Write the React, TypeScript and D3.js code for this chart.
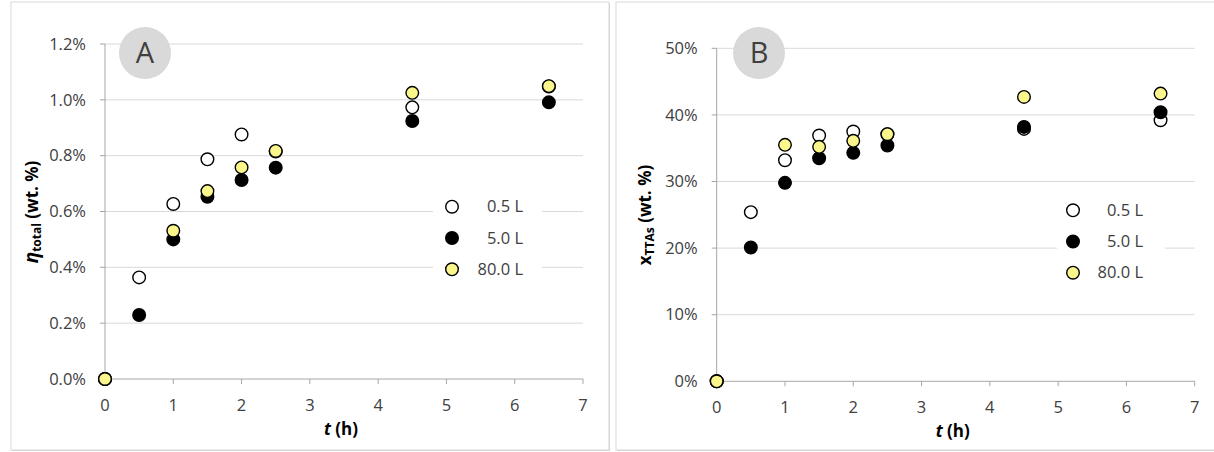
import React from "react";
import * as d3 from "d3";

const times = [0, 0.5, 1, 1.5, 2, 2.5, 4.5, 6.5];

const seriesNames = ["0.5 L", "5.0 L", "80.0 L"];
const seriesFill = ["#ffffff", "#000000", "#fbf68c"];

// Panel A: eta_total (fraction)
const etaSmall = [0, 0.00364, 0.00627, 0.00787, 0.00876, 0.00815, 0.00973, 0.01048];
const etaMedium = [0, 0.00229, 0.005, 0.00653, 0.00713, 0.00757, 0.00924, 0.00991];
const etaLarge = [0, null, 0.00531, 0.00673, 0.00758, 0.00817, 0.01025, 0.01049];

// Panel B: x_TTAs (fraction)
const ttaSmall = [0, 0.254, 0.332, 0.369, 0.375, 0.371, 0.379, 0.392];
const ttaMedium = [0, 0.201, 0.298, 0.335, 0.343, 0.354, 0.382, 0.404];
const ttaLarge = [0, null, 0.355, 0.352, 0.361, 0.371, 0.427, 0.432];

const xTicks = [0, 1, 2, 3, 4, 5, 6, 7];
const etaTicks = [0, 0.002, 0.004, 0.006, 0.008, 0.01, 0.012];
const ttaTicks = [0, 0.1, 0.2, 0.3, 0.4, 0.5];

const FONT = "'Open Sans', 'Noto Sans', sans-serif";
const TXT = "#404040";

type PanelProps = {
  frame: [number, number];
  xr: [number, number];
  yr: [number, number];
  ymax: number;
  yTicks: number[];
  fmt: (v: number) => string;
  series: (number | null)[][];
  letter: string;
  letterPos: [number, number];
  legend: { x: number; textX: number; y0: number; dy: number; bg: [number, number] };
  yLabel: React.ReactNode;
  yLabelPos: [number, number];
};

function Panel(p: PanelProps) {
  const x = d3.scaleLinear().domain([0, 7]).range(p.xr);
  const y = d3.scaleLinear().domain([0, p.ymax]).range(p.yr);
  const [fx0, fx1] = p.frame;
  return (
    <g>
      <rect x={fx0 + 1} y={3} width={fx1 - fx0} height={448} fill="#d0d0d0" />
      <rect x={fx0} y={2} width={fx1 - fx0} height={448} fill="#ffffff" stroke="#d9d9d9" strokeWidth={1} />
      {p.yTicks.slice(1).map((t) => (
        <line key={"g" + t} x1={p.xr[0]} x2={p.xr[1]} y1={y(t)} y2={y(t)} stroke="#d9d9d9" strokeWidth={1} />
      ))}
      <line x1={p.xr[0]} x2={p.xr[0]} y1={p.yr[0]} y2={p.yr[1]} stroke="#a6a6a6" strokeWidth={1} />
      <line x1={p.xr[0]} x2={p.xr[1]} y1={p.yr[0]} y2={p.yr[0]} stroke="#a6a6a6" strokeWidth={1} />
      {p.yTicks.map((t) => (
        <g key={"y" + t}>
          <line x1={p.xr[0] - 5} x2={p.xr[0]} y1={y(t)} y2={y(t)} stroke="#a6a6a6" />
          <text x={p.xr[0] - 19} y={y(t)} dy="0.35em" textAnchor="end" fontSize={16.5} fill={TXT} fontFamily={FONT}>
            {p.fmt(t)}
          </text>
        </g>
      ))}
      {xTicks.map((t) => (
        <g key={"x" + t}>
          <line x1={x(t)} x2={x(t)} y1={p.yr[0]} y2={p.yr[0] + 5} stroke="#a6a6a6" />
          <text x={x(t)} y={p.yr[0] + 26} dy="0.35em" textAnchor="middle" fontSize={16.5} fill={TXT} fontFamily={FONT}>
            {t}
          </text>
        </g>
      ))}
      <text x={(p.xr[0] + p.xr[1]) / 2 - 3} y={p.yr[0] + 56} textAnchor="middle" fontSize={17} fontWeight="bold" fill="#000" fontFamily={FONT}>
        <tspan fontStyle="italic">t</tspan> (h)
      </text>
      <text
        transform={`translate(${p.yLabelPos[0]},${p.yLabelPos[1]}) rotate(-90)`}
        textAnchor="middle"
        fontSize={17}
        fontWeight="bold"
        fill="#000"
        fontFamily={FONT}
      >
        {p.yLabel}
      </text>
      <rect x={p.legend.bg[0]} y={p.legend.y0 - 16} width={p.legend.bg[1] - p.legend.bg[0]} height={p.legend.dy * 2 + 32} fill="#fff" />
      {seriesNames.map((n, i) => (
        <g key={n}>
          <circle cx={p.legend.x} cy={p.legend.y0 + i * p.legend.dy} r={6.3} fill={seriesFill[i]} stroke="#000" strokeWidth={1.4} />
          <text x={p.legend.textX} y={p.legend.y0 + i * p.legend.dy} dy="0.35em" textAnchor="end" fontSize={16.5} fill={TXT} fontFamily={FONT}>
            {n}
          </text>
        </g>
      ))}
      {p.series.map((s, si) =>
        s.map((v, i) =>
          v === null ? null : (
            <circle key={si + "-" + i} cx={x(times[i])} cy={y(v)} r={6.3} fill={seriesFill[si]} stroke="#000" strokeWidth={1.4} />
          )
        )
      )}
      <circle cx={p.letterPos[0]} cy={p.letterPos[1]} r={26} fill="#d9d9d9" />
      <text x={p.letterPos[0]} y={p.letterPos[1]} dy="0.36em" textAnchor="middle" fontSize={29} fill={TXT} fontFamily={FONT}>
        {p.letter}
      </text>
    </g>
  );
}

export default function App() {
  return (
    <svg width={1214} height={452} style={{ position: "absolute", left: 0, top: 0, background: "#fff" }}>
      <rect width={1214} height={452} fill="#fff" />
      <Panel
        frame={[11, 609]}
        xr={[105, 583]}
        yr={[379, 44]}
        ymax={0.012}
        yTicks={etaTicks}
        fmt={d3.format(".1%")}
        series={[etaSmall, etaMedium, etaLarge]}
        letter="A"
        letterPos={[145, 53]}
        legend={{ x: 452, textX: 523, y0: 206.7, dy: 31.3, bg: [433, 542] }}
        yLabel={
          <>
            <tspan fontStyle="italic" fontSize={19}>η</tspan>
            <tspan fontSize={12} dy={3}>total</tspan>
            <tspan dy={-3}> (wt. %)</tspan>
          </>
        }
        yLabelPos={[38, 212]}
      />
      <Panel
        frame={[616, 1222]}
        xr={[716.7, 1194.7]}
        yr={[381.3, 48.3]}
        ymax={0.5}
        yTicks={ttaTicks}
        fmt={d3.format(".0%")}
        series={[ttaSmall, ttaMedium, ttaLarge]}
        letter="B"
        letterPos={[759, 53]}
        legend={{ x: 1073, textX: 1143, y0: 210.3, dy: 31.2, bg: [1057, 1165] }}
        yLabel={
          <>
            <tspan>x</tspan>
            <tspan fontSize={12} dy={3}>TTAs</tspan>
            <tspan dy={-3}> (wt. %)</tspan>
          </>
        }
        yLabelPos={[651, 215]}
      />
    </svg>
  );
}
